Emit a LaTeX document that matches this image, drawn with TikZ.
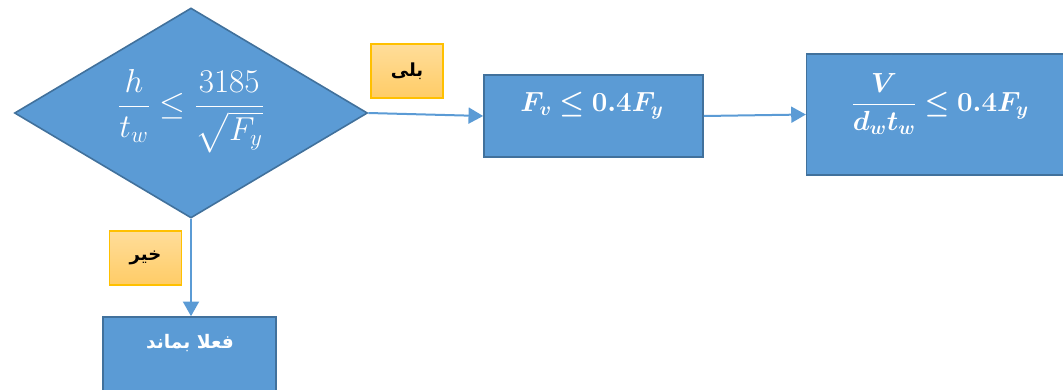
\documentclass[tikz,border=0pt]{standalone}
\usepackage{amsmath}
\usepackage{bm}
\usepackage{fontspec}
\usetikzlibrary{shapes.geometric,arrows.meta}
\TeXXeTstate=1
\newfontfamily\arabicfont[Script=Arabic]{DejaVu Sans}
\definecolor{boxblue}{HTML}{5B9BD5}
\definecolor{boxedge}{HTML}{41719C}
\definecolor{lblA}{HTML}{FFDD9A}
\definecolor{lblB}{HTML}{FFCC66}
\definecolor{lbledge}{HTML}{FFC000}
\tikzset{
  bluebox/.style={draw=boxedge, line width=1.2pt, fill=boxblue, inner sep=0pt},
  yesno/.style={draw=lbledge, line width=0.8pt, top color=lblA, bottom color=lblB, inner sep=0pt,
    minimum width=54pt, minimum height=40.5pt, font=\arabicfont\bfseries\fontsize{13.5}{16}\selectfont},
  flow/.style={draw=boxblue, line width=1.5pt, -{Triangle[length=11pt,width=12pt]}},
  wtext/.style={text=white, inner sep=0pt}
}
\begin{document}
\begin{tikzpicture}[x=0.75pt,y=-0.75pt]
\useasboundingbox (0,0) rectangle (1063,389);
% shapes
\node[bluebox, diamond, aspect=1.68, minimum width=264.75pt, minimum height=157.5pt] (d) at (191,113) {};
\node[wtext, font=\fontsize{23}{27}\selectfont] (dt) at (191,111) {$\dfrac{h}{t_w}\le\dfrac{3185}{\sqrt{F_y}}$};
\node[bluebox, minimum width=164.25pt, minimum height=61.5pt] (b1) at (593.5,116) {};
\node[wtext, font=\fontsize{22.5}{26}\selectfont] (b1t) at (592,106) {$\bm{F_v\le 0.4F_y}$};
\node[bluebox, minimum width=194pt, minimum height=90.75pt] (b2) at (936,114.5) {};
\node[wtext, font=\fontsize{22.5}{26}\selectfont] (b2t) at (940,104) {$\dfrac{\bm{V}}{\bm{d_w t_w}}\bm{\le 0.4F_y}$};
\node[bluebox, minimum width=129.75pt, minimum height=57pt] (b3) at (189.5,355) {};
\node[wtext, font=\arabicfont\bfseries\fontsize{14}{16}\selectfont] (b3t) at (190,343) {\beginR فعلا بماند\endR};
% labels
\node[yesno] (yes) at (407,71) {\beginR بلی\endR};
\node[yesno] (no) at (145.5,258) {\beginR خیر\endR};
% connectors
\draw[flow] (d.east) -- (b1.west);
\draw[flow] (b1.east) -- (b2.west);
\draw[flow] (d.south) -- (d.south |- b3.north);
\end{tikzpicture}
\end{document}
